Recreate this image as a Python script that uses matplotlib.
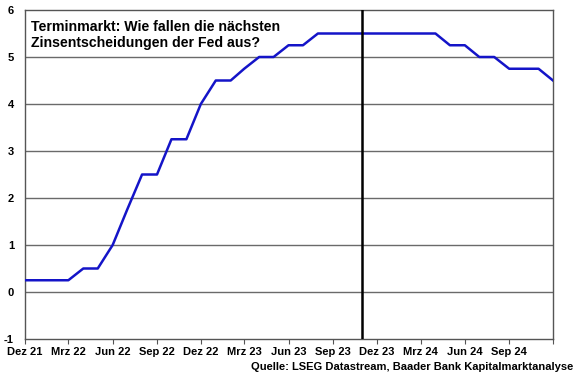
import matplotlib
matplotlib.use("Agg")
import matplotlib.pyplot as plt
import matplotlib.dates as mdates
import pandas as pd

plt.rcParams['font.family'] = ['Liberation Sans', 'DejaVu Sans']

# Data: monthly Fed funds path (upper bound), Dez 21 .. Dez 24
months = pd.date_range('2021-12-01', '2024-12-01', freq='MS')
rates = [0.25, 0.25, 0.25, 0.25, 0.5, 0.5, 1.0, 1.75, 2.5, 2.5, 3.25, 3.25,
         4.0, 4.5, 4.5, 4.75, 5.0, 5.0, 5.25, 5.25, 5.5, 5.5, 5.5, 5.5,
         5.5, 5.5, 5.5, 5.5, 5.5, 5.25, 5.25, 5.0, 5.0, 4.75, 4.75, 4.75, 4.5]
today = pd.Timestamp('2023-11-01')
tick_dates = pd.date_range('2021-12-01', '2024-09-01', freq='3MS')
tick_labels = ['Dez 21', 'Mrz 22', 'Jun 22', 'Sep 22', 'Dez 22', 'Mrz 23',
               'Jun 23', 'Sep 23', 'Dez 23', 'Mrz 24', 'Jun 24', 'Sep 24']
yticks = [-1, 0, 1, 2, 3, 4, 5, 6]

W, H = 580, 375
fig = plt.figure(figsize=(W / 100, H / 100), dpi=100)
ax = fig.add_axes([25 / W, 1 - 339 / H, (553 - 25) / W, (339 - 10) / H])

for y in yticks[1:-1]:
    ax.axhline(y, color='#6a6a6a', lw=1.0, zorder=1)

ax.plot(months, rates, color='#1414c8', lw=1.8, zorder=3)
ax.axvline(today, color='black', lw=1.8, zorder=4)

ax.set_xlim(months[0], months[-1])
ax.set_ylim(-1, 6)
ax.set_yticks(yticks)
ax.set_yticklabels([str(v) for v in yticks], fontsize=8, fontweight='bold')
ax.set_xticks(list(tick_dates) + [months[-1]])
ax.set_xticklabels(tick_labels + [''], fontsize=8, fontweight='bold')
ax.tick_params(axis='y', length=0, pad=8)
ax.tick_params(axis='x', length=3.5, width=0.8, color='#555555', pad=2)

for s in ax.spines.values():
    s.set_color('#555555')
    s.set_linewidth(1.0)

fig.text(31 / W, 1 - 30.7 / H, 'Terminmarkt: Wie fallen die nächsten',
         fontsize=10.2, fontweight='bold', va='baseline', ha='left')
fig.text(31 / W, 1 - 46.7 / H, 'Zinsentscheidungen der Fed aus?',
         fontsize=10.2, fontweight='bold', va='baseline', ha='left')
fig.text(573 / W, 1 - 369.5 / H,
         'Quelle: LSEG Datastream, Baader Bank Kapitalmarktanalyse',
         fontsize=8, fontweight='bold', va='baseline', ha='right')

fig.savefig('out.png', dpi=100)
